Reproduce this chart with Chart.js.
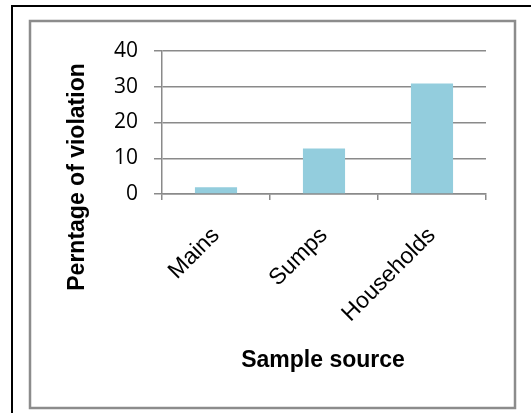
<!DOCTYPE html>
<html>
<head>
<meta charset="utf-8">
<script src="https://cdn.jsdelivr.net/npm/chart.js@4/dist/chart.umd.min.js"></script>
<style>
  html, body { margin: 0; padding: 0; background: #ffffff; }
  canvas { display: block; }
</style>
</head>
<body>
<canvas id="chart" width="531" height="413"></canvas>
<script>
// Violation percentages by sample source
const categories = ['Mains', 'Sumps', 'Households'];
const violationPercent = [1.9, 12.7, 30.9];
const yTicks = [0, 10, 20, 30, 40];

const yTitle = 'Perntage of violation';
const xTitle = 'Sample source';

const barColor = '#93cddd';
const axisGray = '#8a8a8a';

// Frame around the figure and the chart box, plus axis titles
const framePlugin = {
  id: 'frame',
  beforeDraw(chart) {
    const ctx = chart.ctx;
    ctx.save();
    ctx.fillStyle = '#ffffff';
    ctx.fillRect(0, 0, chart.width, chart.height);
    // outer black frame (top and left edges)
    ctx.strokeStyle = '#000000';
    ctx.lineWidth = 2;
    ctx.beginPath();
    ctx.moveTo(12, chart.height);
    ctx.lineTo(12, 6);
    ctx.lineTo(chart.width, 6);
    ctx.stroke();
    // inner gray chart box
    ctx.strokeStyle = '#8c8c8c';
    ctx.lineWidth = 2.5;
    ctx.strokeRect(30, 21, 485, 387);
    ctx.restore();
  },
  afterDraw(chart) {
    const ctx = chart.ctx;
    ctx.save();
    ctx.fillStyle = '#000000';
    ctx.font = 'bold 23px "Liberation Sans", Arial, sans-serif';
    ctx.textAlign = 'center';
    ctx.textBaseline = 'middle';
    // vertical axis title
    ctx.save();
    ctx.translate(78, 177);
    ctx.rotate(-Math.PI / 2);
    ctx.fillText(yTitle, 0, 0);
    ctx.restore();
    // horizontal axis title
    ctx.fillText(xTitle, 323, 361);
    ctx.restore();
  }
};

new Chart(document.getElementById('chart'), {
  type: 'bar',
  data: {
    labels: categories,
    datasets: [{
      data: violationPercent,
      backgroundColor: barColor,
      borderWidth: 0,
      categoryPercentage: 1.0,
      barPercentage: 0.39
    }]
  },
  options: {
    responsive: false,
    animation: false,
    events: [],
    layout: { padding: { left: 0, right: 45, top: 51, bottom: 0 } },
    plugins: {
      legend: { display: false },
      tooltip: { enabled: false }
    },
    scales: {
      x: {
        grid: {
          display: true,
          offset: true,
          drawOnChartArea: false,
          drawTicks: true,
          tickLength: 6,
          color: axisGray,
          lineWidth: 1.5
        },
        border: { display: true, color: axisGray, width: 1.5 },
        ticks: {
          color: '#000000',
          font: { family: '"Liberation Sans", Arial, sans-serif', size: 23 },
          minRotation: 45,
          maxRotation: 45,
          padding: 22,
          autoSkip: false
        },
        afterFit(scale) {
          scale.height = 413 - 194;
          scale.paddingLeft = 0;
          scale.paddingRight = 0;
        }
      },
      y: {
        min: 0,
        max: 40,
        afterBuildTicks(scale) {
          scale.ticks = yTicks.map(v => ({ value: v }));
        },
        grid: {
          color: axisGray,
          lineWidth: 1.5,
          drawTicks: true,
          tickLength: 8
        },
        border: { display: true, color: axisGray, width: 1.5 },
        ticks: {
          color: '#000000',
          font: { family: '"Open Sans", sans-serif', size: 21 },
          padding: 16
        },
        afterFit(scale) {
          scale.width = 162;
          scale.paddingTop = 0;
          scale.paddingBottom = 0;
        }
      }
    }
  },
  plugins: [framePlugin]
});
</script>
</body>
</html>
